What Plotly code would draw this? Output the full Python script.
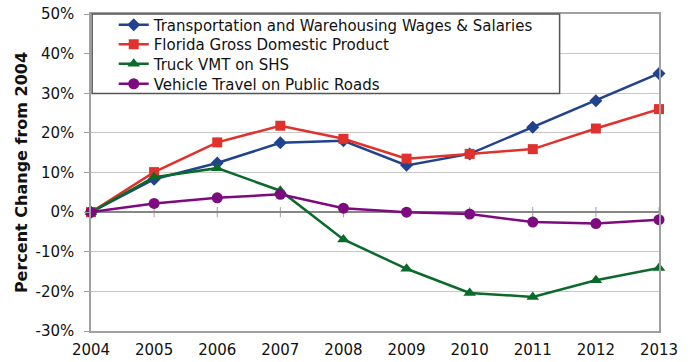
import plotly.graph_objects as go

years = [2004, 2005, 2006, 2007, 2008, 2009, 2010, 2011, 2012, 2013]
wages = [0, 8.3, 12.4, 17.5, 18.0, 11.8, 14.7, 21.4, 28.1, 35.0]
gdp = [0, 10.1, 17.6, 21.8, 18.5, 13.5, 14.7, 15.9, 21.1, 26.0]
truck_vmt = [0, 8.8, 11.1, 5.4, -6.9, -14.3, -20.4, -21.4, -17.2, -14.1]
vehicle_travel = [0, 2.2, 3.6, 4.5, 1.0, 0.0, -0.5, -2.5, -2.9, -1.9]
y_ticks = [-30, -20, -10, 0, 10, 20, 30, 40, 50]

series = [
    ("Transportation and Warehousing Wages & Salaries", wages, "#21428C", "diamond", 10),
    ("Florida Gross Domestic Product", gdp, "#E1312C", "square", 10),
    ("Truck VMT on SHS", truck_vmt, "#0A6A2A", "triangle-up", 11),
    ("Vehicle Travel on Public Roads", vehicle_travel, "#7E0A80", "circle", 11),
]

font_family = "DejaVu Sans, Verdana, sans-serif"
legend_ids = ["legend", "legend2", "legend3", "legend4"]
legend_rows = [0.9653, 0.9038, 0.8423, 0.7792]

fig = go.Figure()
for (name, vals, color, symbol, size), lg in zip(series, legend_ids):
    fig.add_trace(go.Scatter(
        x=years, y=vals, name=name, mode="lines+markers",
        line=dict(color=color, width=2.5),
        marker=dict(symbol=symbol, size=size, color=color),
        cliponaxis=False, legend=lg,
    ))

# small tick marks where the category axis crosses zero
for yr in years:
    fig.add_shape(type="line", xref="x", yref="y", x0=yr, x1=yr, y0=-1.3, y1=1.3,
                  line=dict(color="#A0A0A0", width=1), layer="below")

# legend frame
fig.add_shape(type="rect", xref="paper", yref="paper",
              x0=0.002, x1=0.825, y0=0.749, y1=1.0,
              line=dict(color="#555555", width=1.5), fillcolor="white", layer="above")

legend_style = dict(xanchor="left", yanchor="middle", x=0.04,
                    bgcolor="rgba(0,0,0,0)", borderwidth=0,
                    font=dict(size=15, family=font_family), itemwidth=30)

fig.update_layout(
    width=690, height=362,
    margin=dict(l=91, r=31, t=14, b=31, autoexpand=False),
    paper_bgcolor="white", plot_bgcolor="white",
    font=dict(family=font_family, size=15, color="#111111"),
    showlegend=True,
    **{lg: dict(legend_style, y=yy) for lg, yy in zip(legend_ids, legend_rows)},
    xaxis=dict(range=[2004, 2013], tickvals=years, ticks="", showgrid=False,
               showline=True, linecolor="#A0A0A0", linewidth=1.5, mirror=True,
               zeroline=False, tickfont=dict(size=15), ticklabelstandoff=4,
               automargin=False),
    yaxis=dict(range=[-30, 50], tickvals=y_ticks,
               ticktext=[f"{v}%" for v in y_ticks],
               ticks="outside", ticklen=5, tickcolor="#A0A0A0",
               showgrid=True, gridcolor="#C8C8C8", gridwidth=1.2,
               showline=True, linecolor="#A0A0A0", linewidth=1.5, mirror=True,
               zeroline=True, zerolinecolor="#868686", zerolinewidth=2,
               tickfont=dict(size=15), automargin=False, ticklabelstandoff=7,
               title=dict(text="<b>Percent Change from 2004</b>",
                          font=dict(size=16), standoff=4)),
)

fig.write_html("out.html")
